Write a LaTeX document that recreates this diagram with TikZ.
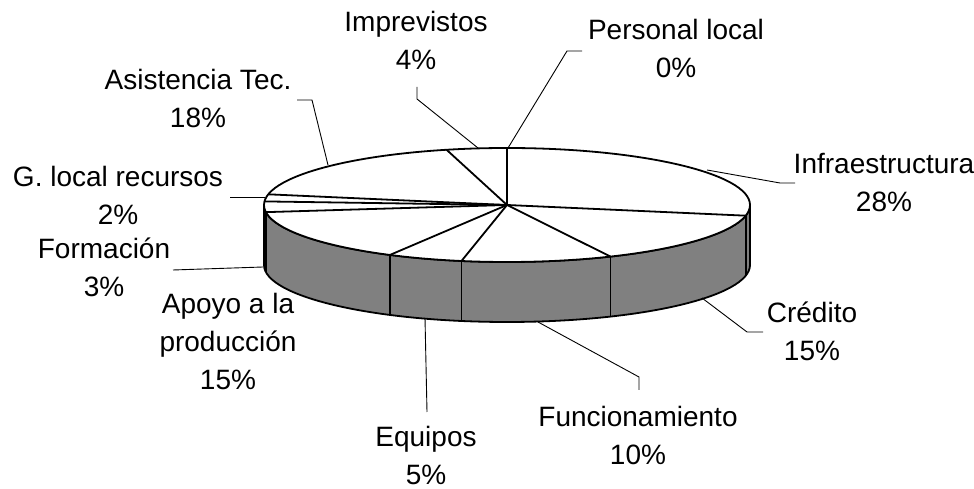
\documentclass[tikz,border=0pt]{standalone}
\usepackage{fontspec}
\setmainfont{Liberation Sans}
\usetikzlibrary{calc}

\begin{document}
\begin{tikzpicture}[x=1pt,y=1pt]

\tikzset{pielabel/.style = {align=center, inner sep=0pt, anchor=base, font=\fontsize{28}{38}\selectfont}}
\tikzset{leader/.style = {line width=0.9pt}}
\tikzset{rim/.style = {line width=1.8pt, line join=round}}

\useasboundingbox (0,0) rectangle (974,489);

%pie
\coordinate (c) at (507,284);

\filldraw[rim, fill=gray] (264,284) -- (264,224)
  arc[start angle=180, end angle=360, x radius=243, y radius=57] -- (750,284)
  arc[start angle=0, end angle=-180, x radius=243, y radius=57] -- cycle;
\foreach \a in {-10.8,-64.8,-100.8,-118.8,-172.8}
  \draw[rim] ($(c)+(\a:243 and 57)$) -- ++(0,-60);

\filldraw[rim, fill=white] (c) ellipse[x radius=243, y radius=57];
\foreach \a in {90,-10.8,-64.8,-100.8,-118.8,-172.8,-183.6,-190.8,-255.6}
  \draw[rim] (c) -- ($(c)+(\a:243 and 57)$);

%labels (base = last line)
\node[pielabel] (imp) at (416,419) {Imprevistos\\4\%};
\node[pielabel] (per) at (676,411) {Personal local\\0\%};
\node[pielabel] (asi) at (198,361) {Asistencia Tec.\\18\%};
\node[pielabel] (inf) at (884,277) {Infraestructura\\28\%};
\node[pielabel] (glr) at (118,264) {G. local recursos\\2\%};
\node[pielabel] (for) at (104,192) {Formaci\'on\\3\%};
\node[pielabel] (apo) at (228,99) {Apoyo a la\\producci\'on\\15\%};
\node[pielabel] (cre) at (812,128) {Cr\'edito\\15\%};
\node[pielabel] (fun) at (638,24) {Funcionamiento\\10\%};
\node[pielabel] (equ) at (426,4) {Equipos\\5\%};

%leader lines
\coordinate (imp-a) at (417,402);
\coordinate (imp-b) at (417,390);
\coordinate (imp-c) at (478,341);
\coordinate (per-a) at (582,438);
\coordinate (per-b) at (567,438);
\coordinate (per-c) at (508,341);
\coordinate (asi-a) at (297,389);
\coordinate (asi-b) at (312,389);
\coordinate (asi-c) at (328,324);
\coordinate (inf-a) at (795,306);
\coordinate (inf-b) at (780,306);
\coordinate (inf-c) at (707,319);
\coordinate (glr-a) at (230,292);
\coordinate (glr-c) at (265,292);
\coordinate (for-a) at (173,219);
\coordinate (for-c) at (263,222);
\coordinate (cre-a) at (763,157);
\coordinate (cre-b) at (747,157);
\coordinate (cre-c) at (702,191);
\coordinate (fun-a) at (639,99);
\coordinate (fun-b) at (639,112);
\coordinate (fun-c) at (538,167);
\coordinate (equ-a) at (427,77);
\coordinate (equ-c) at (425,171);

\draw[leader] (imp-a) -- (imp-b) -- (imp-c);
\draw[leader] (per-a) -- (per-b) -- (per-c);
\draw[leader] (asi-a) -- (asi-b) -- (asi-c);
\draw[leader] (inf-a) -- (inf-b) -- (inf-c);
\draw[leader] (glr-a) -- (glr-c);
\draw[leader] (for-a) -- (for-c);
\draw[leader] (cre-a) -- (cre-b) -- (cre-c);
\draw[leader] (fun-a) -- (fun-b) -- (fun-c);
\draw[leader] (equ-a) -- (equ-c);

\end{tikzpicture}
\end{document}
